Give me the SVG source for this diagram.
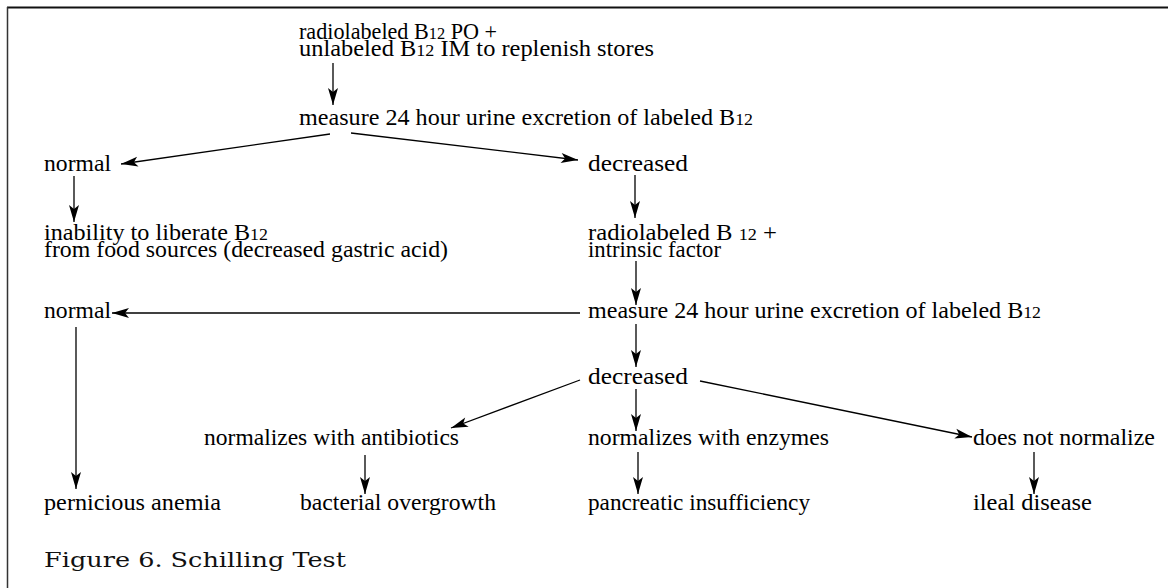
<svg xmlns="http://www.w3.org/2000/svg" width="1168" height="588" viewBox="0 0 1168 588">
<style>
.t{font-family:"Liberation Serif","Times New Roman",serif;font-size:23px;fill:#000}
.s{font-size:17px}
.cap{font-family:"DejaVu Serif",serif;font-size:21px;fill:#111}
.c{stroke:#000;stroke-width:1.3;fill:none;marker-end:url(#ah)}
</style>
<defs>
<marker id="ah" markerUnits="userSpaceOnUse" viewBox="-18 -6 19 12" refX="0" refY="0" markerWidth="19" markerHeight="12" orient="auto">
<path d="M0,0 L-17,-5 L-13,0 L-17,5 Z" fill="#000"/>
</marker>
</defs>
<rect width="1168" height="588" fill="#fff"/>
<g id="frame">
<line x1="7" y1="7.5" x2="1168" y2="7.5" stroke="#111" stroke-width="2"/>
<line x1="7.5" y1="7" x2="7.5" y2="588" stroke="#333" stroke-width="1.5"/>
</g>
<g id="connectors">
<line class="c" x1="333" y1="63" x2="333" y2="105"/>
<line class="c" x1="330" y1="134" x2="121" y2="164"/>
<line class="c" x1="351" y1="133" x2="578" y2="160"/>
<line class="c" x1="74" y1="176" x2="74" y2="222"/>
<line class="c" x1="635" y1="175" x2="635" y2="218"/>
<line class="c" x1="636" y1="261" x2="636" y2="305"/>
<line class="c" x1="580" y1="313" x2="112" y2="313"/>
<line class="c" x1="76" y1="327" x2="76" y2="489"/>
<line class="c" x1="636" y1="324" x2="636" y2="367"/>
<line class="c" x1="580" y1="380" x2="451" y2="428"/>
<line class="c" x1="636" y1="389" x2="636" y2="431"/>
<line class="c" x1="700" y1="381" x2="972" y2="437"/>
<line class="c" x1="365" y1="455" x2="365" y2="494"/>
<line class="c" x1="638" y1="452" x2="638" y2="494"/>
<line class="c" x1="1034" y1="452" x2="1034" y2="494"/>
</g>
<g id="n-start"><text class="t" x="299" y="39" textLength="198" lengthAdjust="spacingAndGlyphs">radiolabeled B<tspan class="s">12</tspan> PO +</text>
<text class="t" x="299" y="56" textLength="355" lengthAdjust="spacingAndGlyphs">unlabeled B<tspan class="s">12</tspan> IM to replenish stores</text></g>
<g id="n-measure1"><text class="t" x="299" y="125" textLength="454" lengthAdjust="spacingAndGlyphs">measure 24 hour urine excretion of labeled B<tspan class="s">12</tspan></text></g>
<g id="n-normal1"><text class="t" x="44" y="171" textLength="67" lengthAdjust="spacingAndGlyphs">normal</text></g>
<g id="n-decreased1"><text class="t" x="588" y="171" textLength="100" lengthAdjust="spacingAndGlyphs">decreased</text></g>
<g id="n-inability"><text class="t" x="44" y="240" textLength="224" lengthAdjust="spacingAndGlyphs">inability to liberate B<tspan class="s">12</tspan></text>
<text class="t" x="44" y="257" textLength="404" lengthAdjust="spacingAndGlyphs">from food sources (decreased gastric acid)</text></g>
<g id="n-if"><text class="t" x="588" y="240" textLength="189" lengthAdjust="spacingAndGlyphs">radiolabeled B <tspan class="s">12</tspan> +</text>
<text class="t" x="588" y="257" textLength="133" lengthAdjust="spacingAndGlyphs">intrinsic factor</text></g>
<g id="n-normal2"><text class="t" x="44" y="318" textLength="67" lengthAdjust="spacingAndGlyphs">normal</text></g>
<g id="n-measure2"><text class="t" x="588" y="318" textLength="453" lengthAdjust="spacingAndGlyphs">measure 24 hour urine excretion of labeled B<tspan class="s">12</tspan></text></g>
<g id="n-decreased2"><text class="t" x="588" y="384" textLength="100" lengthAdjust="spacingAndGlyphs">decreased</text></g>
<g id="n-antibiotics"><text class="t" x="204" y="445" textLength="255" lengthAdjust="spacingAndGlyphs">normalizes with antibiotics</text></g>
<g id="n-enzymes"><text class="t" x="588" y="445" textLength="241" lengthAdjust="spacingAndGlyphs">normalizes with enzymes</text></g>
<g id="n-notnormal"><text class="t" x="973" y="445" textLength="182" lengthAdjust="spacingAndGlyphs">does not normalize</text></g>
<g id="n-pernicious"><text class="t" x="44" y="510" textLength="177" lengthAdjust="spacingAndGlyphs">pernicious anemia</text></g>
<g id="n-bacterial"><text class="t" x="300" y="510" textLength="196" lengthAdjust="spacingAndGlyphs">bacterial overgrowth</text></g>
<g id="n-pancreatic"><text class="t" x="588" y="510" textLength="222" lengthAdjust="spacingAndGlyphs">pancreatic insufficiency</text></g>
<g id="n-ileal"><text class="t" x="973" y="510" textLength="119" lengthAdjust="spacingAndGlyphs">ileal disease</text></g>
<g id="caption"><text class="cap" x="44" y="567" textLength="302" lengthAdjust="spacingAndGlyphs">Figure 6. Schilling Test</text></g>
</svg>
